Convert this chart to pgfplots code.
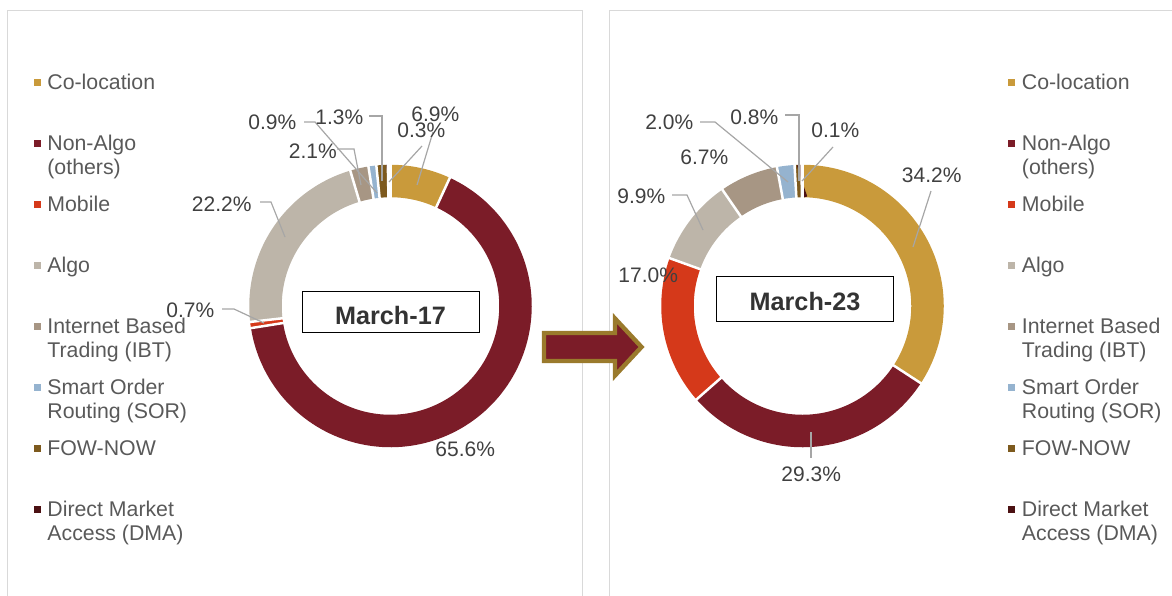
\documentclass[border=0pt]{standalone}
\usepackage{pgfplots}
\pgfplotsset{compat=1.18}
\usepackage{fontspec}
\setmainfont{Liberation Sans}
\definecolor{coloc}{HTML}{C99A3B}
\definecolor{nonalgo}{HTML}{7B1C28}
\definecolor{mobile}{HTML}{D5391A}
\definecolor{algo}{HTML}{BDB5A9}
\definecolor{ibt}{HTML}{A79684}
\definecolor{sor}{HTML}{95B3CF}
\definecolor{fow}{HTML}{7D5A1E}
\definecolor{dma}{HTML}{4B1113}
\definecolor{leader}{HTML}{A6A6A6}
\definecolor{lbl}{HTML}{404040}
\definecolor{leg}{HTML}{595959}
\definecolor{panel}{HTML}{D9D9D9}
\definecolor{arrowedge}{HTML}{9A7A2C}
\definecolor{titlec}{HTML}{333333}

% one ring slice: centre x, centre y, colour, start %, end % (cumulative shares)
\newcommand{\ring}[5]{\addplot[draw=#3, line width=16.25pt, line cap=butt, domain={#4*3.6}:{#5*3.6}, samples=120] ({#1+125*sin(x)},{#2-125*cos(x)});}
% white separator at a cumulative share
\newcommand{\sep}[3]{\addplot[draw=white, line width=1.25pt, domain=104:146, samples=2] ({#1+x*sin(#3*3.6)},{#2-x*cos(#3*3.6)});}

\tikzset{
  legtext/.style={anchor=base west, inner sep=0pt, text=leg, font=\fontsize{10.65}{12}\selectfont},
  lbltext/.style={anchor=base west, inner sep=0pt, text=lbl, font=\fontsize{10.5}{12}\selectfont},
}

\newcommand{\legendblock}[2]{%
  \addplot[only marks, mark=square*, mark size=1.5pt, color=coloc]   coordinates {(#1,82)};
  \addplot[only marks, mark=square*, mark size=1.5pt, color=nonalgo] coordinates {(#1,143)};
  \addplot[only marks, mark=square*, mark size=1.5pt, color=mobile]  coordinates {(#1,204)};
  \addplot[only marks, mark=square*, mark size=1.5pt, color=algo]    coordinates {(#1,265)};
  \addplot[only marks, mark=square*, mark size=1.5pt, color=ibt]     coordinates {(#1,326)};
  \addplot[only marks, mark=square*, mark size=1.5pt, color=sor]     coordinates {(#1,387)};
  \addplot[only marks, mark=square*, mark size=1.5pt, color=fow]     coordinates {(#1,448)};
  \addplot[only marks, mark=square*, mark size=1.5pt, color=dma]     coordinates {(#1,509)};
  \node[legtext] at (axis cs:#2,89) {Co-location};
  \node[legtext] at (axis cs:#2,150) {Non-Algo};
  \node[legtext] at (axis cs:#2,174) {(others)};
  \node[legtext] at (axis cs:#2,211) {Mobile};
  \node[legtext] at (axis cs:#2,272) {Algo};
  \node[legtext] at (axis cs:#2,333) {Internet Based};
  \node[legtext] at (axis cs:#2,357) {Trading (IBT)};
  \node[legtext] at (axis cs:#2,394) {Smart Order};
  \node[legtext] at (axis cs:#2,418) {Routing (SOR)};
  \node[legtext] at (axis cs:#2,455) {FOW-NOW};
  \node[legtext] at (axis cs:#2,516) {Direct Market};
  \node[legtext] at (axis cs:#2,540) {Access (DMA)};
}

\begin{document}
\begin{tikzpicture}
\begin{axis}[
  x=0.5pt, y=0.5pt,
  xmin=0, xmax=1172, ymin=0, ymax=595,
  y dir=reverse,
  enlargelimits=false,
  hide axis,
  clip=true,
]
% panel frames
\addplot[draw=panel, line width=0.6pt] coordinates {(7.5,620) (7.5,10.5) (582.5,10.5) (582.5,620)};
\addplot[draw=panel, line width=0.6pt] coordinates {(609.5,620) (609.5,10.5) (1190,10.5)};

% ---- March-17 (centre 390.5, 306) ----
% Co-location 6.9, Non-Algo 65.6, Mobile 0.7, Algo 22.2, IBT 2.1, SOR 0.9, FOW-NOW 1.3, DMA 0.3
\ring{390.5}{306}{coloc}{0}{6.9}
\ring{390.5}{306}{nonalgo}{6.9}{72.5}
\ring{390.5}{306}{mobile}{72.5}{73.2}
\ring{390.5}{306}{algo}{73.2}{95.4}
\ring{390.5}{306}{ibt}{95.4}{97.5}
\ring{390.5}{306}{sor}{97.5}{98.4}
\ring{390.5}{306}{fow}{98.4}{99.7}
\ring{390.5}{306}{dma}{99.7}{100}
\sep{390.5}{306}{0}\sep{390.5}{306}{6.9}\sep{390.5}{306}{72.5}\sep{390.5}{306}{73.2}
\sep{390.5}{306}{95.4}\sep{390.5}{306}{97.5}\sep{390.5}{306}{98.4}\sep{390.5}{306}{99.7}

% ---- March-23 (centre 802.5, 306) ----
% Co-location 34.2, Non-Algo 29.3, Mobile 17.0, Algo 9.9, IBT 6.7, SOR 2.0, FOW-NOW 0.8, DMA 0.1
\ring{802.5}{306}{coloc}{0}{34.2}
\ring{802.5}{306}{nonalgo}{34.2}{63.5}
\ring{802.5}{306}{mobile}{63.5}{80.5}
\ring{802.5}{306}{algo}{80.5}{90.4}
\ring{802.5}{306}{ibt}{90.4}{97.1}
\ring{802.5}{306}{sor}{97.1}{99.1}
\ring{802.5}{306}{fow}{99.1}{99.9}
\ring{802.5}{306}{dma}{99.9}{100}
\sep{802.5}{306}{0}\sep{802.5}{306}{34.2}\sep{802.5}{306}{63.5}\sep{802.5}{306}{80.5}
\sep{802.5}{306}{90.4}\sep{802.5}{306}{97.1}\sep{802.5}{306}{99.1}\sep{802.5}{306}{99.9}

% leader lines March-17
\addplot[draw=leader, line width=0.6pt] coordinates {(433,132) (417,185)};
\addplot[draw=leader, line width=0.6pt] coordinates {(422,146) (389,182)};
\addplot[draw=leader, line width=0.6pt] coordinates {(369,116) (382,116) (382,181)};
\addplot[draw=leader, line width=0.6pt] coordinates {(304,122) (315,122) (377,193)};
\addplot[draw=leader, line width=0.6pt] coordinates {(337,149) (354,149) (361,185)};
\addplot[draw=leader, line width=0.6pt] coordinates {(260,202) (271,202) (285,237)};
\addplot[draw=leader, line width=0.6pt] coordinates {(222,309) (234,309) (264,323)};
% leader lines March-23
\addplot[draw=leader, line width=0.6pt] coordinates {(931,191) (913,247)};
\addplot[draw=leader, line width=0.6pt] coordinates {(811,432) (811,458)};
\addplot[draw=leader, line width=0.6pt] coordinates {(700,122) (715,122) (788,182)};
\addplot[draw=leader, line width=0.6pt] coordinates {(785,115) (799,115) (799,181)};
\addplot[draw=leader, line width=0.6pt] coordinates {(833,147) (802,181)};
\addplot[draw=leader, line width=0.6pt] coordinates {(672,195) (687,195) (703,230)};

% arrow
\addplot[fill=nonalgo, draw=arrowedge, line width=2.2pt, line join=miter] coordinates {(544,333) (615,333) (615,318.5) (641.5,347) (615,375.5) (615,361) (544,361)} -- cycle;

% data labels March-17
\node[lbltext] at (axis cs:411,121) {6.9\%};
\node[lbltext] at (axis cs:397,137) {0.3\%};
\node[lbltext] at (axis cs:315,124) {1.3\%};
\node[lbltext] at (axis cs:248,129) {0.9\%};
\node[lbltext] at (axis cs:288.5,158) {2.1\%};
\node[lbltext] at (axis cs:191.5,211) {22.2\%};
\node[lbltext] at (axis cs:166,317) {0.7\%};
\node[lbltext] at (axis cs:435,456) {65.6\%};
% data labels March-23
\node[lbltext] at (axis cs:901.5,182) {34.2\%};
\node[lbltext] at (axis cs:645,129) {2.0\%};
\node[lbltext] at (axis cs:730,124) {0.8\%};
\node[lbltext] at (axis cs:811,137) {0.1\%};
\node[lbltext] at (axis cs:680,164) {6.7\%};
\node[lbltext] at (axis cs:617,203) {9.9\%};
\node[lbltext] at (axis cs:618,282) {17.0\%};
\node[lbltext] at (axis cs:781,481) {29.3\%};

% title boxes
\node[draw=black, line width=0.6pt, fill=white, minimum width=88.5pt, minimum height=20.5pt, inner sep=0pt] at (axis cs:391.2,312.2) {};
\node[anchor=base, inner sep=0pt, text=titlec, font=\bfseries\fontsize{12.6}{14}\selectfont] at (axis cs:390.5,324) {March-17};
\node[draw=black, line width=0.6pt, fill=white, minimum width=88.25pt, minimum height=22.5pt, inner sep=0pt] at (axis cs:805,299.2) {};
\node[anchor=base, inner sep=0pt, text=titlec, font=\bfseries\fontsize{12.6}{14}\selectfont] at (axis cs:805,310) {March-23};

% legends
\legendblock{37.7}{47}
\legendblock{1011}{1021.5}

\path (axis cs:0,0) rectangle (axis cs:1172,595);
\end{axis}
\end{tikzpicture}
\end{document}
